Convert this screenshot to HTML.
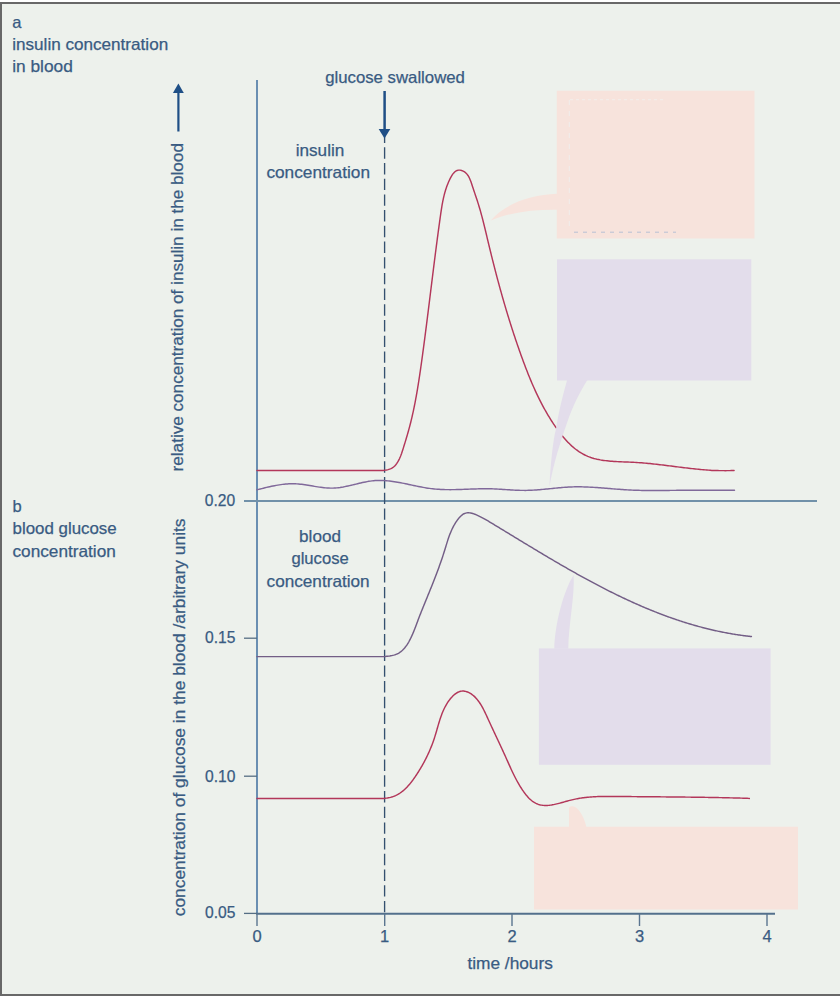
<!DOCTYPE html>
<html>
<head>
<meta charset="utf-8">
<style>
html,body{margin:0;padding:0;background:#ffffff;width:840px;height:1004px;overflow:hidden;}
#frame{position:absolute;left:0;top:2px;width:860px;height:990px;border:2px solid #686868;background:#edf1ec;}
svg{position:absolute;left:0;top:0;}
text{font-family:"Liberation Sans",sans-serif;font-size:16.5px;fill:#395b82;stroke:#395b82;stroke-width:0.25px;}
</style>
</head>
<body>
<div id="frame"></div>
<svg width="840" height="1004" viewBox="0 0 840 1004">
  <!-- callout boxes -->
  <g id="boxes">
    <rect x="556.8" y="90.7" width="197.7" height="147.8" fill="#f7e3dc"/>
    <path d="M557,193.7 C530,194.5 505,204 490.7,220.5 C510,212 535,209.5 557,209.8 Z" fill="#f7e3dc"/>
    <line x1="574" y1="232.2" x2="676" y2="232.2" stroke="#b7c1d4" stroke-width="1" stroke-dasharray="4 5"/>
    <line x1="570" y1="99.7" x2="665" y2="99.7" stroke="#f3ece8" stroke-width="1.2" stroke-dasharray="3 3"/>
    <line x1="569.3" y1="100" x2="569.3" y2="230" stroke="#f1ebe9" stroke-width="1.2" stroke-dasharray="5 6"/>
    <rect x="557" y="259.3" width="194.3" height="121.2" fill="#e3ddeb"/>
    <rect x="538.9" y="648.4" width="231.7" height="116.4" fill="#e3ddeb"/>
    <path d="M554.3,648.8 C554.8,625 563,592 573.6,574.9 C575,595 568.5,625 568.3,648.8 Z" fill="#e3ddeb"/>
    <rect x="534" y="826.7" width="264" height="82.8" fill="#f7e3dc"/>
    <path d="M569,826.9 L569,808 C569.5,806 573,805.8 575,807 C580,810 584.5,818 586.3,826.9 Z" fill="#f7e3dc"/>
  </g>

  <!-- axes -->
  <g stroke-width="2" fill="none">
    <line x1="257" y1="80" x2="257" y2="914" stroke="#6a8fb2"/>
    <line x1="244" y1="501" x2="817" y2="501" stroke="#7191a9"/>
  </g>
  <g stroke="#4f6f8f" stroke-width="2" fill="none">
    <line x1="256" y1="913.7" x2="775" y2="913.7" stroke="#53708c" stroke-width="1.9"/>
    <line x1="244" y1="913.4" x2="257" y2="913.4" stroke="#556e84" stroke-width="1.3"/>
    <line x1="244" y1="638.2" x2="257" y2="638.2" stroke="#556e84" stroke-width="1.3"/>
    <line x1="244" y1="776.2" x2="257" y2="776.2" stroke="#556e84" stroke-width="1.3"/>
    <line x1="257" y1="914" x2="257" y2="926" stroke-width="1.4" stroke="#5a7590"/>
    <line x1="384.7" y1="914" x2="384.7" y2="926" stroke-width="1.4" stroke="#5a7590"/>
    <line x1="512" y1="914" x2="512" y2="926" stroke-width="1.4" stroke="#5a7590"/>
    <line x1="639.5" y1="914" x2="639.5" y2="926" stroke-width="1.4" stroke="#5a7590"/>
    <line x1="767" y1="914" x2="767" y2="926" stroke-width="1.4" stroke="#5a7590"/>
  </g>

  <!-- dashed line -->
  <line x1="384.6" y1="131.6" x2="384.6" y2="914" stroke="#34506f" stroke-width="1.35" stroke-dasharray="11.4 4.3"/>
  <!-- arrow glucose swallowed -->
  <line x1="384.6" y1="91" x2="384.6" y2="131" stroke="#1f4f86" stroke-width="2.5"/>
  <path d="M378.7,129 L390.3,129 L384.5,138.5 Z" fill="#1f4f86"/>
  <!-- arrow on y label -->
  <line x1="178.4" y1="92" x2="178.4" y2="131.5" stroke="#1f4f86" stroke-width="2.2"/>
  <path d="M172.9,93 L183.8,93 L178.4,83.5 Z" fill="#1f4f86"/>

  <!-- curves -->
  <g fill="none" stroke-width="1.45" stroke-linecap="round">
    <!-- insulin (top red) -->
    <path stroke="#b3375a" d="M257.00,470.40 L340.00,470.40 L341.67,470.40 L343.34,470.40 L345.01,470.40 L346.68,470.40 L348.35,470.40 L350.01,470.40 L351.68,470.40 L353.34,470.40 L355.01,470.40 L356.67,470.40 L358.34,470.40 L360.00,470.40 L361.66,470.40 L363.33,470.40 L365.00,470.40 L366.66,470.40 L368.33,470.40 L370.00,470.40 L371.67,470.40 L373.34,470.40 L375.02,470.40 L376.69,470.40 L378.37,470.40 L380.05,470.40 L381.71,470.40 L383.36,470.40 L384.98,470.13 L386.57,469.91 L388.10,469.60 L389.58,469.17 L390.99,468.61 L392.33,467.90 L393.58,467.02 L394.74,465.97 L395.83,464.76 L396.83,463.42 L397.77,461.95 L398.64,460.38 L399.45,458.72 L400.20,457.00 L400.91,455.21 L401.58,453.39 L402.21,451.55 L402.81,449.71 L403.39,447.88 L403.95,446.08 L404.50,444.32 L405.02,442.59 L405.54,440.89 L406.04,439.22 L406.53,437.58 L407.00,435.96 L407.47,434.36 L407.92,432.78 L408.36,431.21 L408.79,429.66 L409.21,428.11 L409.62,426.57 L410.03,425.04 L410.42,423.51 L410.81,421.97 L411.19,420.43 L411.56,418.88 L411.93,417.33 L412.29,415.77 L412.64,414.20 L412.99,412.63 L413.34,411.05 L413.67,409.46 L414.00,407.87 L414.33,406.27 L414.65,404.66 L414.97,403.05 L415.28,401.44 L415.58,399.82 L415.88,398.20 L416.18,396.57 L416.47,394.93 L416.76,393.30 L417.04,391.66 L417.32,390.01 L417.60,388.37 L417.87,386.72 L418.14,385.06 L418.40,383.41 L418.67,381.75 L418.92,380.09 L419.18,378.43 L419.43,376.76 L419.68,375.09 L419.93,373.43 L420.17,371.76 L420.42,370.09 L420.66,368.42 L420.89,366.75 L421.13,365.08 L421.37,363.41 L421.60,361.74 L421.83,360.07 L422.06,358.40 L422.29,356.73 L422.52,355.06 L422.74,353.39 L422.97,351.72 L423.19,350.06 L423.42,348.39 L423.64,346.73 L423.86,345.06 L424.08,343.40 L424.30,341.74 L424.52,340.08 L424.74,338.41 L424.95,336.75 L425.17,335.09 L425.38,333.43 L425.60,331.77 L425.81,330.11 L426.02,328.46 L426.24,326.80 L426.45,325.14 L426.66,323.48 L426.87,321.83 L427.08,320.17 L427.29,318.52 L427.49,316.86 L427.70,315.21 L427.91,313.55 L428.12,311.90 L428.32,310.24 L428.53,308.59 L428.74,306.94 L428.94,305.29 L429.15,303.63 L429.35,301.98 L429.56,300.33 L429.76,298.68 L429.97,297.03 L430.17,295.38 L430.37,293.73 L430.58,292.08 L430.78,290.43 L430.99,288.78 L431.19,287.13 L431.39,285.48 L431.60,283.83 L431.80,282.19 L432.01,280.54 L432.21,278.89 L432.42,277.24 L432.62,275.59 L432.83,273.95 L433.03,272.30 L433.24,270.65 L433.44,269.00 L433.65,267.36 L433.86,265.71 L434.06,264.06 L434.27,262.42 L434.48,260.77 L434.69,259.12 L434.90,257.48 L435.11,255.83 L435.32,254.18 L435.53,252.53 L435.74,250.89 L435.95,249.24 L436.17,247.59 L436.38,245.95 L436.59,244.30 L436.81,242.65 L437.03,241.01 L437.24,239.36 L437.46,237.71 L437.68,236.06 L437.90,234.41 L438.12,232.77 L438.34,231.12 L438.56,229.47 L438.79,227.82 L439.01,226.17 L439.24,224.52 L439.47,222.87 L439.69,221.22 L439.92,219.57 L440.15,217.92 L440.39,216.27 L440.62,214.62 L440.86,212.97 L441.10,211.32 L441.35,209.67 L441.60,208.03 L441.87,206.38 L442.15,204.73 L442.45,203.09 L442.76,201.45 L443.09,199.81 L443.45,198.18 L443.82,196.55 L444.22,194.92 L444.65,193.30 L445.10,191.68 L445.59,190.07 L446.10,188.46 L446.66,186.86 L447.24,185.26 L447.87,183.67 L448.54,182.09 L449.24,180.51 L450.00,178.94 L450.80,177.39 L451.65,175.87 L452.57,174.43 L453.56,173.13 L454.64,172.00 L455.82,171.09 L457.11,170.45 L458.52,170.12 L460.05,170.13 L461.62,170.46 L463.16,171.06 L464.59,171.89 L465.86,172.92 L466.98,174.12 L467.97,175.47 L468.84,176.94 L469.62,178.51 L470.32,180.15 L470.96,181.84 L471.55,183.55 L472.11,185.26 L472.66,186.94 L473.21,188.60 L473.75,190.22 L474.29,191.82 L474.82,193.39 L475.35,194.95 L475.87,196.49 L476.38,198.03 L476.89,199.55 L477.39,201.07 L477.88,202.60 L478.36,204.13 L478.84,205.66 L479.31,207.21 L479.76,208.77 L480.22,210.33 L480.66,211.90 L481.10,213.49 L481.53,215.07 L481.96,216.67 L482.38,218.27 L482.80,219.88 L483.21,221.49 L483.62,223.11 L484.02,224.73 L484.42,226.36 L484.82,227.99 L485.21,229.62 L485.61,231.26 L486.00,232.90 L486.39,234.53 L486.78,236.17 L487.17,237.82 L487.56,239.46 L487.95,241.10 L488.34,242.74 L488.73,244.37 L489.13,246.01 L489.52,247.65 L489.92,249.28 L490.32,250.91 L490.72,252.54 L491.12,254.17 L491.52,255.80 L491.93,257.43 L492.33,259.05 L492.74,260.68 L493.15,262.30 L493.56,263.92 L493.97,265.54 L494.39,267.16 L494.81,268.78 L495.22,270.40 L495.64,272.01 L496.07,273.62 L496.49,275.24 L496.92,276.85 L497.35,278.46 L497.78,280.07 L498.21,281.68 L498.64,283.28 L499.08,284.89 L499.52,286.49 L499.96,288.10 L500.40,289.70 L500.85,291.30 L501.30,292.90 L501.75,294.50 L502.20,296.10 L502.65,297.70 L503.11,299.29 L503.57,300.89 L504.03,302.48 L504.50,304.08 L504.96,305.67 L505.43,307.26 L505.91,308.85 L506.38,310.44 L506.86,312.03 L507.34,313.62 L507.82,315.21 L508.31,316.79 L508.80,318.38 L509.29,319.96 L509.78,321.55 L510.28,323.13 L510.78,324.71 L511.28,326.29 L511.79,327.87 L512.30,329.45 L512.81,331.03 L513.32,332.61 L513.84,334.19 L514.36,335.77 L514.89,337.34 L515.41,338.92 L515.94,340.49 L516.48,342.07 L517.01,343.64 L517.56,345.22 L518.10,346.79 L518.65,348.36 L519.20,349.93 L519.75,351.50 L520.31,353.07 L520.87,354.64 L521.43,356.21 L522.00,357.78 L522.57,359.35 L523.15,360.92 L523.73,362.48 L524.31,364.05 L524.90,365.61 L525.49,367.18 L526.09,368.74 L526.70,370.30 L527.31,371.86 L527.92,373.41 L528.54,374.96 L529.17,376.52 L529.80,378.06 L530.44,379.61 L531.09,381.15 L531.74,382.69 L532.40,384.23 L533.07,385.77 L533.74,387.30 L534.43,388.82 L535.12,390.35 L535.81,391.87 L536.52,393.38 L537.24,394.89 L537.96,396.40 L538.69,397.91 L539.43,399.40 L540.18,400.90 L540.95,402.39 L541.72,403.87 L542.50,405.35 L543.29,406.82 L544.09,408.29 L544.90,409.75 L545.72,411.21 L546.55,412.66 L547.40,414.11 L548.25,415.55 L549.12,416.98 L550.00,418.41 L550.89,419.83 L551.79,421.24 L552.70,422.64 L553.63,424.04 L554.57,425.43 L555.52,426.82 L556.49,428.19 L557.47,429.56 L558.46,430.92 L559.47,432.27 L560.49,433.60 L561.53,434.92 L562.59,436.22 L563.66,437.50 L564.75,438.76 L565.85,440.00 L566.97,441.22 L568.12,442.42 L569.28,443.58 L570.46,444.72 L571.66,445.84 L572.87,446.92 L574.11,447.96 L575.38,448.98 L576.66,449.96 L577.96,450.90 L579.29,451.80 L580.64,452.67 L582.02,453.49 L583.41,454.27 L584.84,455.00 L586.28,455.69 L587.76,456.33 L589.26,456.92 L590.78,457.47 L592.32,457.97 L593.89,458.43 L595.48,458.84 L597.08,459.23 L598.71,459.57 L600.35,459.89 L602.01,460.17 L603.68,460.42 L605.36,460.64 L607.06,460.84 L608.77,461.02 L610.48,461.18 L612.21,461.32 L613.94,461.44 L615.68,461.54 L617.42,461.64 L619.16,461.72 L620.91,461.80 L622.66,461.87 L624.41,461.94 L626.15,462.01 L627.90,462.07 L629.64,462.14 L631.37,462.22 L633.10,462.30 L634.82,462.39 L636.53,462.49 L638.24,462.60 L639.93,462.72 L641.62,462.84 L643.31,462.98 L644.98,463.12 L646.65,463.27 L648.32,463.42 L649.98,463.58 L651.63,463.75 L653.28,463.93 L654.93,464.10 L656.57,464.29 L658.20,464.47 L659.83,464.67 L661.46,464.86 L663.09,465.06 L664.71,465.26 L666.33,465.46 L667.95,465.66 L669.56,465.87 L671.18,466.07 L672.79,466.28 L674.40,466.49 L676.01,466.69 L677.62,466.90 L679.23,467.10 L680.84,467.31 L682.45,467.51 L684.06,467.70 L685.67,467.90 L687.28,468.09 L688.89,468.28 L690.51,468.46 L692.13,468.64 L693.75,468.82 L695.37,468.99 L696.99,469.15 L698.62,469.31 L700.26,469.46 L701.89,469.60 L703.53,469.74 L705.18,469.87 L706.83,469.99 L708.48,470.10 L710.14,470.20 L711.81,470.40 L713.48,470.40 L715.16,470.40 L716.84,470.40 L718.53,470.57 L720.23,470.60 L721.93,470.63 L723.65,470.65 L725.37,470.65 L727.10,470.64 L728.84,470.61 L730.58,470.57 L732.34,470.40 L734.10,470.40"/>
    <!-- purple wave top -->
    <path stroke="#80699a" d="M257.00,489.80 L258.60,489.39 L260.19,488.99 L261.79,488.58 L263.39,488.19 L264.98,487.80 L266.58,487.41 L268.18,487.04 L269.78,486.68 L271.37,486.33 L272.97,486.00 L274.57,485.68 L276.16,485.38 L277.76,485.10 L279.36,484.85 L280.95,484.61 L282.55,484.40 L284.15,484.22 L285.75,484.06 L287.34,483.93 L288.94,483.84 L290.54,483.78 L292.13,483.75 L293.73,483.76 L295.33,483.81 L296.92,483.89 L298.52,484.01 L300.12,484.16 L301.72,484.34 L303.31,484.55 L304.91,484.77 L306.51,485.01 L308.10,485.26 L309.70,485.53 L311.30,485.80 L312.89,486.07 L314.49,486.34 L316.09,486.60 L317.69,486.86 L319.28,487.10 L320.88,487.32 L322.48,487.53 L324.07,487.71 L325.67,487.86 L327.27,487.99 L328.86,488.07 L330.46,488.12 L332.06,488.13 L333.66,488.09 L335.25,488.00 L336.85,487.87 L338.45,487.69 L340.04,487.48 L341.64,487.23 L343.24,486.96 L344.83,486.65 L346.43,486.33 L348.03,485.98 L349.63,485.62 L351.22,485.25 L352.82,484.87 L354.42,484.48 L356.01,484.09 L357.61,483.70 L359.21,483.32 L360.80,482.94 L362.40,482.58 L364.00,482.24 L365.60,481.92 L367.19,481.62 L368.79,481.34 L370.39,481.10 L371.98,480.89 L373.58,480.72 L375.18,480.59 L376.77,480.50 L378.37,480.45 L379.97,480.44 L381.57,480.46 L383.16,480.51 L384.76,480.60 L386.36,480.71 L387.95,480.86 L389.55,481.02 L391.15,481.22 L392.74,481.43 L394.34,481.67 L395.94,481.92 L397.54,482.19 L399.13,482.48 L400.73,482.78 L402.33,483.09 L403.92,483.41 L405.52,483.74 L407.12,484.08 L408.71,484.42 L410.31,484.76 L411.91,485.10 L413.51,485.44 L415.10,485.78 L416.70,486.12 L418.30,486.44 L419.89,486.76 L421.49,487.07 L423.09,487.37 L424.68,487.65 L426.28,487.92 L427.88,488.17 L429.47,488.40 L431.07,488.61 L432.67,488.80 L434.27,488.96 L435.86,489.11 L437.46,489.23 L439.06,489.34 L440.65,489.43 L442.25,489.50 L443.85,489.56 L445.44,489.60 L447.04,489.63 L448.64,489.65 L450.24,489.65 L451.83,489.64 L453.43,489.63 L455.03,489.60 L456.62,489.57 L458.22,489.52 L459.82,489.48 L461.41,489.43 L463.01,489.37 L464.61,489.31 L466.21,489.25 L467.80,489.19 L469.40,489.13 L471.00,489.07 L472.59,489.01 L474.19,488.96 L475.79,488.91 L477.38,488.86 L478.98,488.82 L480.58,488.79 L482.18,488.76 L483.77,488.74 L485.37,488.74 L486.97,488.74 L488.56,488.76 L490.16,488.79 L491.76,488.83 L493.35,488.89 L494.95,488.95 L496.55,489.03 L498.15,489.12 L499.74,489.21 L501.34,489.31 L502.94,489.41 L504.53,489.51 L506.13,489.62 L507.73,489.73 L509.32,489.83 L510.92,489.93 L512.52,490.02 L514.12,490.11 L515.71,490.19 L517.31,490.26 L518.91,490.31 L520.50,490.36 L522.10,490.39 L523.70,490.40 L525.29,490.40 L526.89,490.37 L528.49,490.34 L530.09,490.28 L531.68,490.21 L533.28,490.13 L534.88,490.03 L536.47,489.92 L538.07,489.81 L539.67,489.68 L541.26,489.54 L542.86,489.40 L544.46,489.25 L546.06,489.09 L547.65,488.94 L549.25,488.77 L550.85,488.61 L552.44,488.45 L554.04,488.28 L555.64,488.12 L557.23,487.97 L558.83,487.81 L560.43,487.67 L562.03,487.53 L563.62,487.39 L565.22,487.27 L566.82,487.16 L568.41,487.07 L570.01,486.98 L571.61,486.91 L573.20,486.86 L574.80,486.83 L576.40,486.81 L577.99,486.80 L579.59,486.81 L581.19,486.83 L582.79,486.86 L584.38,486.91 L585.98,486.96 L587.58,487.03 L589.17,487.10 L590.77,487.19 L592.37,487.28 L593.96,487.38 L595.56,487.48 L597.16,487.59 L598.76,487.71 L600.35,487.83 L601.95,487.95 L603.55,488.08 L605.14,488.20 L606.74,488.33 L608.34,488.46 L609.93,488.59 L611.53,488.72 L613.13,488.85 L614.73,488.98 L616.32,489.10 L617.92,489.23 L619.52,489.34 L621.11,489.46 L622.71,489.57 L624.31,489.67 L625.90,489.77 L627.50,489.87 L629.10,489.95 L630.70,490.03 L632.29,490.11 L633.89,490.17 L635.49,490.23 L637.08,490.28 L638.68,490.33 L640.28,490.37 L641.87,490.41 L643.47,490.44 L645.07,490.46 L646.67,490.48 L648.26,490.50 L649.86,490.51 L651.46,490.52 L653.05,490.52 L654.65,490.52 L656.25,490.52 L657.84,490.51 L659.44,490.50 L661.04,490.49 L662.64,490.48 L664.23,490.47 L665.83,490.45 L667.43,490.44 L669.02,490.42 L670.62,490.40 L672.22,490.38 L673.81,490.37 L675.41,490.35 L677.01,490.33 L678.61,490.31 L680.20,490.30 L681.80,490.28 L683.40,490.27 L684.99,490.26 L686.59,490.25 L688.19,490.24 L689.78,490.23 L691.38,490.22 L692.98,490.22 L694.58,490.21 L696.17,490.21 L697.77,490.21 L699.37,490.20 L700.96,490.20 L702.56,490.20 L704.16,490.20 L705.75,490.20 L707.35,490.20 L708.95,490.21 L710.55,490.21 L712.14,490.21 L713.74,490.22 L715.34,490.22 L716.93,490.23 L718.53,490.23 L720.13,490.24 L721.72,490.24 L723.32,490.25 L724.92,490.26 L726.52,490.26 L728.11,490.27 L729.71,490.28 L731.31,490.28 L732.90,490.29 L734.50,490.30"/>
    <!-- glucose (bottom purple) -->
    <path stroke="#735e86" d="M257.00,656.60 L339.99,656.60 L341.06,656.60 L342.13,656.60 L343.19,656.60 L344.26,656.60 L345.32,656.60 L346.38,656.60 L347.44,656.60 L348.50,656.60 L349.57,656.60 L350.63,656.60 L351.68,656.60 L352.74,656.60 L353.80,656.60 L354.86,656.60 L355.92,656.60 L356.98,656.60 L358.03,656.60 L359.09,656.60 L360.15,656.60 L361.21,656.60 L362.27,656.60 L363.32,656.60 L364.38,656.60 L365.44,656.60 L366.50,656.60 L367.56,656.60 L368.62,656.60 L369.68,656.60 L370.74,656.60 L371.81,656.60 L372.87,656.60 L373.93,656.60 L375.00,656.60 L376.07,656.60 L377.13,656.60 L378.20,656.60 L379.27,656.60 L380.34,656.60 L381.41,656.60 L382.47,656.60 L383.54,656.60 L384.59,656.60 L385.65,656.41 L386.69,656.33 L387.73,656.24 L388.76,656.12 L389.78,655.98 L390.79,655.81 L391.79,655.62 L392.77,655.39 L393.75,655.14 L394.70,654.84 L395.64,654.51 L396.56,654.14 L397.47,653.73 L398.35,653.28 L399.21,652.78 L400.06,652.23 L400.88,651.63 L401.67,650.98 L402.45,650.28 L403.20,649.54 L403.94,648.76 L404.65,647.94 L405.35,647.08 L406.02,646.19 L406.68,645.26 L407.32,644.30 L407.94,643.31 L408.55,642.30 L409.14,641.26 L409.71,640.20 L410.27,639.12 L410.82,638.03 L411.35,636.92 L411.87,635.80 L412.37,634.66 L412.87,633.52 L413.35,632.38 L413.82,631.23 L414.28,630.08 L414.73,628.93 L415.17,627.79 L415.61,626.65 L416.03,625.52 L416.45,624.40 L416.86,623.29 L417.27,622.20 L417.67,621.13 L418.06,620.07 L418.45,619.04 L418.84,618.02 L419.22,617.03 L419.60,616.04 L419.97,615.08 L420.35,614.13 L420.72,613.18 L421.08,612.25 L421.45,611.33 L421.82,610.42 L422.18,609.51 L422.55,608.61 L422.91,607.71 L423.27,606.81 L423.64,605.91 L424.01,605.01 L424.38,604.11 L424.75,603.20 L425.12,602.29 L425.49,601.38 L425.87,600.46 L426.25,599.54 L426.63,598.61 L427.01,597.68 L427.39,596.74 L427.78,595.80 L428.16,594.85 L428.55,593.90 L428.94,592.95 L429.33,591.99 L429.72,591.03 L430.11,590.07 L430.50,589.10 L430.89,588.13 L431.28,587.16 L431.67,586.18 L432.06,585.20 L432.46,584.21 L432.85,583.23 L433.24,582.24 L433.63,581.25 L434.02,580.25 L434.41,579.26 L434.80,578.26 L435.18,577.26 L435.57,576.25 L435.95,575.25 L436.34,574.24 L436.72,573.23 L437.10,572.22 L437.48,571.21 L437.86,570.19 L438.23,569.18 L438.61,568.16 L438.98,567.14 L439.35,566.12 L439.71,565.10 L440.08,564.08 L440.44,563.06 L440.80,562.04 L441.15,561.01 L441.51,559.99 L441.86,558.97 L442.20,557.94 L442.55,556.92 L442.88,555.89 L443.22,554.87 L443.55,553.84 L443.88,552.82 L444.20,551.79 L444.52,550.77 L444.84,549.75 L445.15,548.72 L445.46,547.70 L445.77,546.68 L446.08,545.66 L446.40,544.65 L446.71,543.63 L447.02,542.62 L447.34,541.61 L447.66,540.60 L447.99,539.59 L448.33,538.59 L448.67,537.59 L449.02,536.60 L449.38,535.60 L449.75,534.61 L450.13,533.63 L450.52,532.65 L450.93,531.68 L451.35,530.71 L451.78,529.74 L452.23,528.78 L452.70,527.83 L453.18,526.88 L453.68,525.93 L454.21,525.00 L454.75,524.07 L455.31,523.14 L455.90,522.23 L456.51,521.32 L457.14,520.41 L457.80,519.52 L458.48,518.64 L459.19,517.78 L459.92,516.96 L460.68,516.19 L461.47,515.47 L462.28,514.82 L463.12,514.24 L463.99,513.76 L464.89,513.37 L465.81,513.09 L466.76,512.90 L467.73,512.81 L468.72,512.81 L469.72,512.88 L470.74,513.03 L471.76,513.25 L472.80,513.52 L473.84,513.85 L474.88,514.22 L475.91,514.63 L476.95,515.07 L477.97,515.54 L478.99,516.03 L480.00,516.53 L480.98,517.04 L481.96,517.55 L482.92,518.07 L483.86,518.59 L484.80,519.11 L485.73,519.64 L486.64,520.17 L487.56,520.70 L488.46,521.23 L489.36,521.77 L490.26,522.31 L491.15,522.85 L492.05,523.39 L492.94,523.93 L493.83,524.47 L494.73,525.01 L495.62,525.56 L496.52,526.10 L497.41,526.64 L498.31,527.19 L499.21,527.73 L500.10,528.27 L501.00,528.82 L501.90,529.36 L502.79,529.91 L503.69,530.45 L504.59,531.00 L505.49,531.55 L506.38,532.09 L507.28,532.64 L508.18,533.19 L509.08,533.73 L509.98,534.28 L510.88,534.83 L511.78,535.38 L512.68,535.93 L513.58,536.47 L514.48,537.02 L515.38,537.57 L516.29,538.12 L517.19,538.67 L518.09,539.22 L518.99,539.77 L519.90,540.31 L520.80,540.86 L521.70,541.41 L522.61,541.96 L523.51,542.51 L524.42,543.06 L525.32,543.61 L526.23,544.16 L527.13,544.70 L528.04,545.25 L528.95,545.80 L529.86,546.35 L530.76,546.90 L531.67,547.44 L532.58,547.99 L533.49,548.54 L534.40,549.09 L535.31,549.63 L536.22,550.18 L537.13,550.73 L538.04,551.27 L538.95,551.82 L539.86,552.37 L540.77,552.91 L541.68,553.46 L542.60,554.00 L543.51,554.54 L544.42,555.09 L545.34,555.63 L546.25,556.18 L547.17,556.72 L548.08,557.26 L549.00,557.80 L549.91,558.34 L550.83,558.88 L551.75,559.42 L552.67,559.96 L553.58,560.50 L554.50,561.04 L555.42,561.58 L556.34,562.12 L557.26,562.65 L558.18,563.19 L559.10,563.73 L560.02,564.26 L560.95,564.80 L561.87,565.33 L562.79,565.86 L563.71,566.39 L564.64,566.93 L565.56,567.46 L566.49,567.99 L567.41,568.52 L568.34,569.04 L569.26,569.57 L570.19,570.10 L571.12,570.62 L572.05,571.15 L572.97,571.67 L573.90,572.20 L574.83,572.72 L575.76,573.24 L576.69,573.76 L577.62,574.28 L578.55,574.80 L579.49,575.32 L580.42,575.84 L581.35,576.35 L582.29,576.87 L583.22,577.38 L584.16,577.89 L585.09,578.40 L586.03,578.92 L586.96,579.42 L587.90,579.93 L588.84,580.44 L589.78,580.95 L590.71,581.45 L591.65,581.95 L592.59,582.46 L593.53,582.96 L594.47,583.46 L595.42,583.96 L596.36,584.45 L597.30,584.95 L598.25,585.45 L599.19,585.94 L600.13,586.43 L601.08,586.92 L602.02,587.41 L602.97,587.90 L603.92,588.39 L604.87,588.87 L605.81,589.36 L606.76,589.84 L607.71,590.32 L608.66,590.80 L609.61,591.28 L610.57,591.76 L611.52,592.23 L612.47,592.71 L613.42,593.18 L614.38,593.65 L615.33,594.12 L616.29,594.59 L617.24,595.05 L618.20,595.52 L619.16,595.98 L620.12,596.44 L621.07,596.90 L622.03,597.36 L622.99,597.81 L623.95,598.27 L624.92,598.72 L625.88,599.17 L626.84,599.62 L627.80,600.07 L628.77,600.51 L629.73,600.96 L630.70,601.40 L631.66,601.84 L632.63,602.28 L633.60,602.72 L634.57,603.15 L635.54,603.58 L636.51,604.01 L637.48,604.44 L638.45,604.87 L639.42,605.29 L640.39,605.72 L641.37,606.14 L642.34,606.56 L643.31,606.97 L644.29,607.39 L645.27,607.80 L646.24,608.21 L647.22,608.62 L648.20,609.03 L649.18,609.43 L650.16,609.84 L651.14,610.24 L652.12,610.63 L653.10,611.03 L654.09,611.42 L655.07,611.81 L656.06,612.20 L657.04,612.59 L658.03,612.98 L659.01,613.36 L660.00,613.74 L660.99,614.12 L661.98,614.49 L662.97,614.87 L663.96,615.24 L664.95,615.61 L665.95,615.97 L666.94,616.34 L667.93,616.70 L668.93,617.06 L669.92,617.41 L670.92,617.77 L671.92,618.12 L672.92,618.47 L673.92,618.81 L674.92,619.16 L675.92,619.50 L676.92,619.84 L677.92,620.18 L678.92,620.51 L679.93,620.84 L680.93,621.17 L681.94,621.50 L682.95,621.82 L683.95,622.14 L684.96,622.46 L685.97,622.77 L686.98,623.09 L687.99,623.40 L689.01,623.70 L690.02,624.01 L691.03,624.31 L692.05,624.61 L693.06,624.90 L694.08,625.20 L695.10,625.49 L696.11,625.78 L697.13,626.06 L698.15,626.34 L699.17,626.62 L700.20,626.90 L701.22,627.17 L702.24,627.44 L703.27,627.71 L704.29,627.97 L705.32,628.23 L706.34,628.49 L707.37,628.75 L708.40,629.00 L709.43,629.25 L710.46,629.50 L711.49,629.74 L712.53,629.98 L713.56,630.22 L714.60,630.45 L715.63,630.68 L716.67,630.91 L717.71,631.13 L718.74,631.35 L719.78,631.57 L720.82,631.79 L721.87,632.00 L722.91,632.21 L723.95,632.41 L725.00,632.61 L726.04,632.81 L727.09,633.01 L728.14,633.20 L729.18,633.39 L730.23,633.57 L731.28,633.75 L732.33,633.93 L733.39,634.11 L734.44,634.28 L735.49,634.45 L736.55,634.61 L737.61,634.77 L738.66,634.93 L739.72,635.08 L740.78,635.23 L741.84,635.38 L742.90,635.52 L743.96,635.66 L745.03,635.80 L746.09,635.93 L747.16,636.06 L748.22,636.19 L749.29,636.31 L750.36,636.43 L751.43,636.54"/>
    <!-- bottom red -->
    <path stroke="#b3375a" d="M257.00,798.50 L340.00,798.50 L341.08,798.50 L342.15,798.50 L343.23,798.50 L344.31,798.50 L345.38,798.50 L346.46,798.50 L347.54,798.50 L348.61,798.50 L349.69,798.50 L350.77,798.50 L351.84,798.50 L352.92,798.50 L353.99,798.50 L355.07,798.50 L356.15,798.50 L357.22,798.50 L358.30,798.50 L359.37,798.50 L360.45,798.50 L361.52,798.50 L362.60,798.50 L363.68,798.50 L364.75,798.50 L365.83,798.50 L366.90,798.50 L367.98,798.50 L369.06,798.50 L370.13,798.50 L371.21,798.50 L372.29,798.50 L373.36,798.50 L374.44,798.50 L375.52,798.50 L376.59,798.50 L377.67,798.50 L378.75,798.50 L379.82,798.50 L380.90,798.50 L381.98,798.50 L383.06,798.50 L384.14,798.50 L385.21,798.27 L386.29,798.15 L387.36,798.00 L388.43,797.81 L389.49,797.60 L390.53,797.35 L391.57,797.07 L392.58,796.75 L393.59,796.40 L394.57,796.01 L395.54,795.58 L396.49,795.13 L397.42,794.64 L398.33,794.12 L399.23,793.56 L400.12,792.99 L400.99,792.38 L401.84,791.74 L402.68,791.09 L403.50,790.40 L404.31,789.70 L405.10,788.97 L405.88,788.22 L406.65,787.45 L407.41,786.66 L408.15,785.86 L408.88,785.04 L409.60,784.20 L410.30,783.35 L411.00,782.49 L411.68,781.62 L412.35,780.73 L413.02,779.84 L413.67,778.94 L414.31,778.03 L414.94,777.12 L415.56,776.20 L416.18,775.28 L416.79,774.35 L417.38,773.42 L417.97,772.50 L418.55,771.57 L419.13,770.65 L419.70,769.72 L420.25,768.80 L420.81,767.87 L421.35,766.94 L421.89,766.02 L422.41,765.09 L422.94,764.16 L423.45,763.23 L423.96,762.30 L424.46,761.37 L424.95,760.43 L425.43,759.50 L425.91,758.56 L426.38,757.62 L426.85,756.68 L427.30,755.73 L427.75,754.79 L428.19,753.84 L428.63,752.89 L429.06,751.93 L429.48,750.97 L429.90,750.01 L430.30,749.05 L430.71,748.08 L431.10,747.11 L431.49,746.13 L431.87,745.15 L432.25,744.16 L432.61,743.17 L432.98,742.18 L433.33,741.18 L433.68,740.18 L434.03,739.17 L434.36,738.16 L434.69,737.14 L435.02,736.11 L435.34,735.08 L435.65,734.05 L435.96,733.01 L436.26,731.96 L436.57,730.92 L436.87,729.87 L437.17,728.81 L437.47,727.76 L437.78,726.70 L438.08,725.64 L438.39,724.59 L438.71,723.53 L439.02,722.47 L439.35,721.41 L439.68,720.36 L440.02,719.31 L440.37,718.26 L440.72,717.21 L441.09,716.17 L441.47,715.13 L441.86,714.09 L442.26,713.06 L442.68,712.04 L443.12,711.02 L443.57,710.01 L444.03,709.01 L444.52,708.01 L445.02,707.02 L445.54,706.04 L446.09,705.07 L446.65,704.11 L447.24,703.16 L447.85,702.22 L448.48,701.29 L449.14,700.38 L449.83,699.47 L450.54,698.58 L451.28,697.72 L452.04,696.88 L452.82,696.07 L453.63,695.30 L454.45,694.58 L455.30,693.91 L456.16,693.30 L457.05,692.74 L457.95,692.26 L458.86,691.85 L459.79,691.52 L460.74,691.27 L461.69,691.12 L462.66,691.06 L463.64,691.09 L464.62,691.21 L465.60,691.41 L466.57,691.69 L467.54,692.03 L468.49,692.44 L469.43,692.90 L470.34,693.42 L471.23,693.98 L472.10,694.58 L472.93,695.22 L473.75,695.91 L474.53,696.63 L475.30,697.38 L476.04,698.17 L476.77,698.99 L477.47,699.83 L478.15,700.71 L478.81,701.61 L479.46,702.53 L480.09,703.48 L480.70,704.44 L481.29,705.43 L481.87,706.42 L482.44,707.44 L483.00,708.46 L483.54,709.49 L484.07,710.54 L484.60,711.59 L485.11,712.64 L485.61,713.70 L486.11,714.75 L486.60,715.81 L487.08,716.86 L487.56,717.91 L488.03,718.95 L488.50,719.98 L488.97,721.00 L489.43,722.01 L489.90,723.02 L490.36,724.01 L490.81,725.00 L491.27,725.98 L491.72,726.95 L492.17,727.92 L492.61,728.88 L493.06,729.83 L493.50,730.78 L493.94,731.73 L494.38,732.67 L494.82,733.60 L495.26,734.53 L495.69,735.46 L496.13,736.39 L496.56,737.31 L496.99,738.23 L497.42,739.15 L497.85,740.06 L498.28,740.98 L498.71,741.89 L499.14,742.81 L499.56,743.72 L499.99,744.64 L500.42,745.55 L500.84,746.47 L501.27,747.39 L501.70,748.31 L502.13,749.24 L502.55,750.16 L502.98,751.09 L503.41,752.03 L503.84,752.96 L504.27,753.91 L504.70,754.85 L505.13,755.81 L505.57,756.77 L506.00,757.73 L506.44,758.70 L506.87,759.68 L507.31,760.66 L507.75,761.65 L508.20,762.65 L508.64,763.64 L509.09,764.64 L509.55,765.65 L510.00,766.66 L510.46,767.67 L510.92,768.68 L511.39,769.69 L511.86,770.70 L512.34,771.72 L512.82,772.73 L513.31,773.74 L513.80,774.75 L514.30,775.76 L514.80,776.77 L515.32,777.77 L515.83,778.77 L516.36,779.76 L516.89,780.75 L517.43,781.74 L517.98,782.72 L518.53,783.69 L519.10,784.66 L519.67,785.62 L520.25,786.57 L520.84,787.51 L521.44,788.45 L522.05,789.37 L522.67,790.29 L523.30,791.20 L523.94,792.09 L524.59,792.97 L525.25,793.84 L525.92,794.70 L526.61,795.54 L527.30,796.36 L528.02,797.15 L528.74,797.92 L529.48,798.67 L530.24,799.38 L531.01,800.06 L531.80,800.71 L532.61,801.32 L533.43,801.89 L534.27,802.42 L535.13,802.90 L536.00,803.35 L536.89,803.75 L537.79,804.12 L538.71,804.44 L539.63,804.71 L540.57,804.95 L541.52,805.14 L542.49,805.29 L543.46,805.39 L544.44,805.46 L545.43,805.49 L546.43,805.48 L547.43,805.44 L548.45,805.37 L549.47,805.27 L550.50,805.14 L551.54,804.99 L552.58,804.81 L553.63,804.62 L554.69,804.40 L555.75,804.16 L556.81,803.91 L557.88,803.65 L558.95,803.37 L560.03,803.08 L561.11,802.79 L562.19,802.49 L563.27,802.18 L564.36,801.88 L565.45,801.57 L566.54,801.26 L567.62,800.96 L568.71,800.67 L569.80,800.38 L570.89,800.11 L571.98,799.84 L573.07,799.59 L574.15,799.35 L575.24,799.12 L576.32,798.90 L577.40,798.70 L578.48,798.50 L579.56,798.32 L580.64,798.15 L581.72,797.99 L582.80,797.83 L583.88,797.69 L584.95,797.56 L586.03,797.43 L587.10,797.32 L588.18,797.21 L589.25,797.11 L590.32,797.02 L591.39,796.94 L592.47,796.86 L593.54,796.79 L594.61,796.73 L595.68,796.68 L596.75,796.63 L597.82,796.58 L598.89,796.54 L599.96,796.51 L601.02,796.48 L602.09,796.46 L603.16,796.44 L604.23,796.42 L605.30,796.41 L606.36,796.41 L607.43,796.40 L608.50,796.40 L609.57,796.40 L610.63,796.40 L611.70,796.41 L612.77,796.42 L613.84,796.42 L614.91,796.43 L615.97,796.44 L617.04,796.45 L618.11,796.47 L619.18,796.48 L620.25,796.49 L621.32,796.50 L622.39,796.51 L623.46,796.52 L624.53,796.53 L625.60,796.54 L626.68,796.55 L627.75,796.56 L628.82,796.57 L629.89,796.58 L630.96,796.59 L632.04,796.60 L633.11,796.61 L634.18,796.62 L635.26,796.63 L636.33,796.64 L637.41,796.65 L638.48,796.66 L639.55,796.67 L640.63,796.67 L641.70,796.68 L642.78,796.69 L643.86,796.70 L644.93,796.71 L646.01,796.72 L647.08,796.73 L648.16,796.74 L649.24,796.75 L650.31,796.76 L651.39,796.77 L652.47,796.77 L653.54,796.78 L654.62,796.79 L655.70,796.80 L656.78,796.81 L657.85,796.82 L658.93,796.83 L660.01,796.84 L661.09,796.85 L662.16,796.86 L663.24,796.87 L664.32,796.88 L665.40,796.89 L666.48,796.90 L667.56,796.91 L668.64,796.92 L669.71,796.93 L670.79,796.94 L671.87,796.95 L672.95,796.96 L674.03,796.97 L675.11,796.98 L676.19,796.99 L677.27,797.00 L678.35,797.01 L679.43,797.02 L680.51,797.03 L681.59,797.05 L682.66,797.06 L683.74,797.07 L684.82,797.08 L685.90,797.10 L686.98,797.11 L688.06,797.12 L689.14,797.13 L690.22,797.15 L691.30,797.16 L692.38,797.17 L693.46,797.19 L694.54,797.20 L695.62,797.22 L696.69,797.23 L697.77,797.25 L698.85,797.26 L699.93,797.28 L701.01,797.29 L702.09,797.31 L703.17,797.33 L704.25,797.34 L705.32,797.36 L706.40,797.38 L707.48,797.39 L708.56,797.41 L709.64,797.43 L710.71,797.45 L711.79,797.47 L712.87,797.49 L713.95,797.51 L715.02,797.53 L716.10,797.55 L717.18,797.57 L718.25,797.59 L719.33,797.61 L720.41,797.63 L721.48,797.65 L722.56,797.68 L723.63,797.70 L724.71,797.72 L725.78,797.75 L726.86,797.77 L727.93,797.79 L729.01,797.82 L730.08,797.85 L731.16,797.87 L732.23,797.90 L733.30,797.92 L734.38,797.95 L735.45,797.98 L736.52,798.01 L737.60,798.04 L738.67,798.06 L739.74,798.09 L740.81,798.12 L741.88,798.15 L742.96,798.19 L744.03,798.22 L745.10,798.25 L746.17,798.28 L747.24,798.31 L748.31,798.35 L749.38,798.50"/>
  </g>


  <path d="M567.1,380 L587.4,380 C580,392 573,405 567,423 C561,440 553,465 549.5,486.7 C550.5,465 553,440 556,429 C559,410 563,395 567.1,380 Z" fill="#e3ddeb"/>
  <!-- texts -->
  <text x="12.2" y="28">a</text>
  <text x="12.2" y="50.4" textLength="156" lengthAdjust="spacingAndGlyphs">insulin concentration</text>
  <text x="12.2" y="71.8" textLength="60.7" lengthAdjust="spacingAndGlyphs">in blood</text>
  <text x="325.2" y="83.3" textLength="139.7" lengthAdjust="spacingAndGlyphs">glucose swallowed</text>
  <text x="295.7" y="156.4" textLength="48.6" lengthAdjust="spacingAndGlyphs">insulin</text>
  <text x="266.4" y="177.9" textLength="103.6" lengthAdjust="spacingAndGlyphs">concentration</text>
  <text style="font-size:16px" transform="translate(183.4,471.4) rotate(-90)" x="0" y="0" textLength="328.3" lengthAdjust="spacingAndGlyphs">relative concentration of insulin in the blood</text>

  <text x="204.8" y="505.7" textLength="30.4" lengthAdjust="spacingAndGlyphs">0.20</text>
  <text x="205" y="643.3" textLength="30.4" lengthAdjust="spacingAndGlyphs">0.15</text>
  <text x="205" y="782.1" textLength="30.4" lengthAdjust="spacingAndGlyphs">0.10</text>
  <text x="205" y="917.9" textLength="30.4" lengthAdjust="spacingAndGlyphs">0.05</text>

  <text x="12.5" y="511.7">b</text>
  <text x="12.5" y="534.2" textLength="104.2" lengthAdjust="spacingAndGlyphs">blood glucose</text>
  <text x="12.5" y="556.7" textLength="103.3" lengthAdjust="spacingAndGlyphs">concentration</text>

  <text x="299.1" y="541.7" textLength="41.8" lengthAdjust="spacingAndGlyphs">blood</text>
  <text x="291.4" y="564.1" textLength="57.3" lengthAdjust="spacingAndGlyphs">glucose</text>
  <text x="266.6" y="586.6" textLength="103" lengthAdjust="spacingAndGlyphs">concentration</text>

  <text style="font-size:16px" transform="translate(184.6,916.3) rotate(-90)" x="0" y="0" textLength="397.8" lengthAdjust="spacingAndGlyphs">concentration of glucose in the blood /arbitrary units</text>

  <text x="257" y="941.8" text-anchor="middle">0</text>
  <text x="384.7" y="941.8" text-anchor="middle">1</text>
  <text x="512" y="941.8" text-anchor="middle">2</text>
  <text x="639.5" y="941.8" text-anchor="middle">3</text>
  <text x="767" y="941.8" text-anchor="middle">4</text>

  <text x="467.4" y="969.2" textLength="85.5" lengthAdjust="spacingAndGlyphs">time /hours</text>
</svg>
</body>
</html>
